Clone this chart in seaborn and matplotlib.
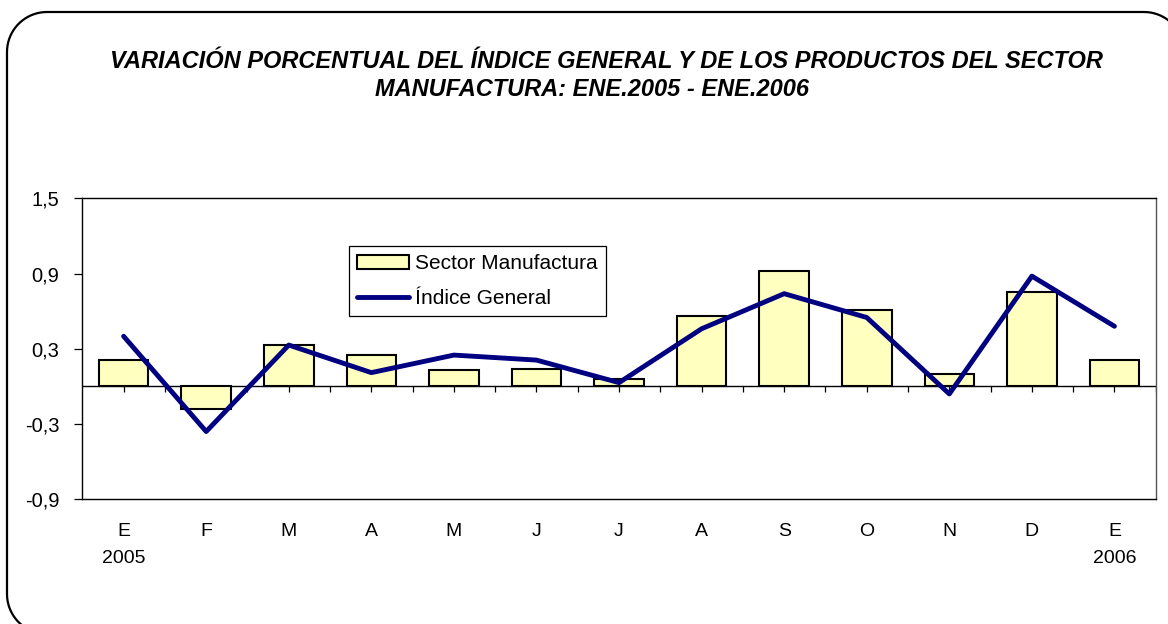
#!/usr/bin/env python3
"""
Variación porcentual del índice general y del sector manufactura, ene.2005 - ene.2006.
"""
import numpy as np
import pandas as pd
import matplotlib
matplotlib.use('Agg')
import matplotlib.pyplot as plt
from matplotlib.path import Path
from matplotlib.patches import PathPatch
from matplotlib.transforms import IdentityTransform
import seaborn as sns

# Data
MONTHS = ['E', 'F', 'M', 'A', 'M', 'J', 'J', 'A', 'S', 'O', 'N', 'D', 'E']
YEARS = ['2005', '', '', '', '', '', '', '', '', '', '', '', '2006']
SECTOR_MANUFACTURA = [0.21, -0.18, 0.33, 0.25, 0.13, 0.14, 0.06, 0.56, 0.92, 0.61, 0.10, 0.75, 0.21]
INDICE_GENERAL = [0.40, -0.36, 0.33, 0.11, 0.25, 0.21, 0.03, 0.46, 0.74, 0.55, -0.06, 0.88, 0.48]
Y_TICKS = [-0.9, -0.3, 0.3, 0.9, 1.5]

TITLE_1 = 'VARIACIÓN PORCENTUAL DEL ÍNDICE GENERAL Y DE LOS PRODUCTOS DEL SECTOR'
TITLE_2 = 'MANUFACTURA: ENE.2005 - ENE.2006'

BAR_COLOR = '#FFFFC0'
LINE_COLOR = '#000080'


def rounded_frame(x0, y0, x1, y1, r):
    """Closed rounded-rectangle path in display pixels."""
    pts = []
    corners = [(x1 - r, y1 - r, 0), (x0 + r, y1 - r, 90),
               (x0 + r, y0 + r, 180), (x1 - r, y0 + r, 270)]
    for cx, cy, start in corners:
        ang = np.radians(np.linspace(start, start + 90, 20))
        pts.extend(zip(cx + r * np.cos(ang), cy + r * np.sin(ang)))
    pts.append(pts[0])
    return Path(pts, closed=True)


def main():
    sns.set_theme(style='white')
    plt.rcParams['font.family'] = ['Liberation Sans', 'DejaVu Sans']
    for key in ['text.color', 'axes.labelcolor', 'xtick.color', 'ytick.color']:
        plt.rcParams[key] = 'black'

    df = pd.DataFrame({
        'pos': np.arange(len(MONTHS)),
        'sector': SECTOR_MANUFACTURA,
        'indice': INDICE_GENERAL,
    })

    fig = plt.figure(figsize=(11.68, 6.24), dpi=100)
    ax = fig.add_axes([0.0705, 0.2, 0.919, 0.482])

    # rounded outer frame (cut off at right and bottom), pixel coordinates
    frame = PathPatch(rounded_frame(7, -10, 1184, 612, 40), transform=IdentityTransform(),
                      fill=False, edgecolor='black', linewidth=1.6, clip_on=False)
    fig.patches.append(frame)

    ax.axhline(0, color='black', linewidth=1.0, zorder=1)

    sns.barplot(data=df, x='pos', y='sector', native_scale=True, width=0.6,
                color=BAR_COLOR, saturation=1, edgecolor='black', linewidth=1.5,
                label='Sector Manufactura', ax=ax, zorder=2)
    sns.lineplot(data=df, x='pos', y='indice', color=LINE_COLOR, linewidth=3.5,
                 label='Índice General', ax=ax, zorder=3)

    # small tick marks hanging from the zero line
    ax.vlines(np.arange(0, len(MONTHS), 0.5), -0.045, 0, color='black',
              linewidth=0.9, zorder=1)

    ax.set_xlim(-0.5, len(MONTHS) - 0.5)
    ax.set_ylim(-0.9, 1.5)
    ax.set_yticks(Y_TICKS)
    ax.set_yticklabels([f'{v:.1f}'.replace('.', ',') for v in Y_TICKS], fontsize=14.5)
    ax.set_xticks(np.arange(len(MONTHS)))
    ax.set_xticklabels([f'{m}\n{y}' for m, y in zip(MONTHS, YEARS)], fontsize=14,
                       linespacing=1.75, va='top')
    ax.tick_params(axis='x', length=0, pad=17)
    ax.tick_params(axis='y', length=6, width=0.9, direction='out', pad=10.5, left=True)
    ax.set_xlabel('')
    ax.set_ylabel('')

    for side in ['left', 'bottom', 'top']:
        ax.spines[side].set_color('black')
        ax.spines[side].set_linewidth(1.0)
    ax.spines['right'].set_color('#555555')
    ax.spines['right'].set_linewidth(1.0)

    handles, labels = ax.get_legend_handles_labels()
    order = [labels.index('Sector Manufactura'), labels.index('Índice General')]
    leg = ax.legend([handles[i] for i in order], [labels[i] for i in order],
                    loc='upper left', bbox_to_anchor=(0.2485, 0.8415), borderaxespad=0,
                    fontsize=15, frameon=True, fancybox=False, framealpha=1,
                    edgecolor='black', handlelength=2.5, handleheight=0.65,
                    handletextpad=0.25, labelspacing=0.75, borderpad=0.4)
    leg.get_frame().set_linewidth(0.9)

    title_kw = dict(ha='center', va='center', fontsize=17, style='italic',
                    weight='bold', family=['Liberation Sans', 'DejaVu Sans'])
    fig.text(606 / 1168, 1 - 62 / 624, TITLE_1, **title_kw)
    fig.text(592 / 1168, 1 - 90 / 624, TITLE_2, **title_kw)

    fig.savefig('out.png', dpi=100)
    plt.close(fig)


if __name__ == '__main__':
    main()
